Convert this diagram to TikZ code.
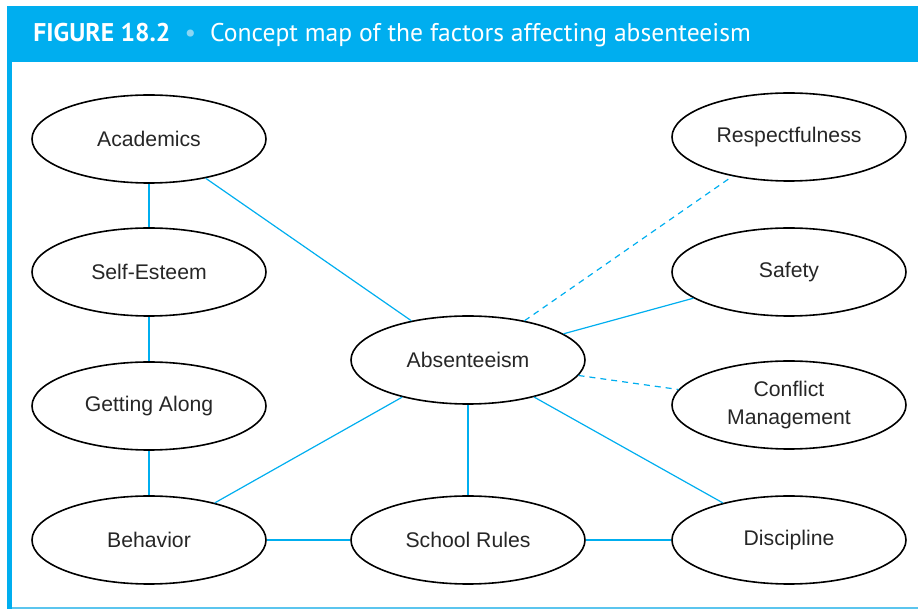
\documentclass[tikz,border=0pt]{standalone}
\usepackage{fontspec}
\usetikzlibrary{shapes.geometric}
\setmainfont{Liberation Sans}
\newfontfamily\titlefont{PT Sans}
\definecolor{figblue}{HTML}{00AEEF}
\definecolor{rimblue}{HTML}{5BC5EE}
\begin{document}
\begin{tikzpicture}[x=0.5pt, y=-0.5pt,
		concept/.style={draw, thick, ellipse, minimum width=117pt, minimum height=44pt, inner sep=0pt, align=center, font=\fontsize{10.6}{13.6}\selectfont, text=black!85},
		link/.style={figblue, line width=0.6pt},
		weaklink/.style={link, dash pattern=on 3pt off 2.5pt}]
		\useasboundingbox (0, 0) rectangle (918, 610);
		
		% frame and title bar
		\fill[figblue] (7, 6) rectangle (918, 62);
		\fill[figblue] (7, 62) rectangle (12, 609);
		\draw[rimblue, line width=1pt] (12, 608.5) -- (918, 608.5);
		\node[right, inner sep=0pt, text=white, font=\titlefont\fontsize{12.8}{15}\selectfont] (title) at (33, 35)
			{\textbf{FIGURE 18.2}\hspace{0.55em}{\color{rimblue!70}\textbullet}\hspace{0.55em}Concept map of the factors affecting absenteeism};
		
		% concepts
		\node[concept] (acad) at (149, 139) {Academics};
		\node[concept] (self) at (149, 272) {Self-Esteem};
		\node[concept] (along) at (149, 406) {Getting Along};
		\node[concept] (behav) at (149, 540) {Behavior};
		\node[concept] (absent) at (468, 360) {Absenteeism};
		\node[concept] (rules) at (468, 540) {School Rules};
		\node[concept] (respect) at (789, 137) {Respectfulness};
		\node[concept] (safety) at (789, 272) {Safety};
		\node[concept] (conflict) at (789, 405) {Conflict\\Management};
		\node[concept] (discip) at (789, 540) {Discipline};
		
		% links
		\draw[link] (acad) -- (self);
		\draw[link] (self) -- (along);
		\draw[link] (along) -- (behav);
		\draw[link] (behav) -- (rules);
		\draw[link] (rules) -- (discip);
		\draw[link] (absent) -- (acad);
		\draw[link] (absent) -- (behav);
		\draw[link] (absent) -- (rules);
		\draw[link] (absent) -- (discip);
		\draw[link] (absent) -- (safety);
		\draw[weaklink] (absent) -- (respect);
		\draw[weaklink] (absent) -- (conflict);
	\end{tikzpicture}
\end{document}
